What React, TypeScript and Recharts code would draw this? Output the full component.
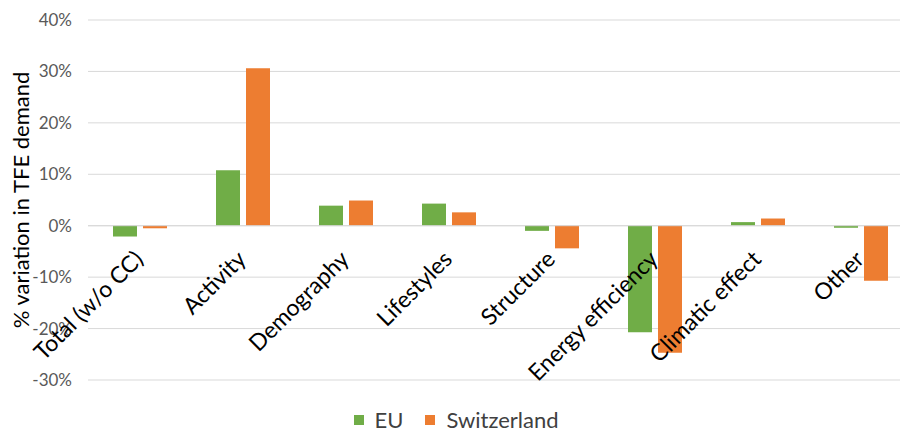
import { BarChart, Bar, XAxis, YAxis, CartesianGrid, Legend, ReferenceLine } from "recharts"

const CATEGORIES = [
  'Total (w/o CC)',
  'Activity',
  'Demography',
  'Lifestyles',
  'Structure',
  'Energy efficiency',
  'Climatic effect',
  'Other',
]
const EU_VALUES = [-2.1, 10.8, 3.9, 4.3, -1.0, -20.7, 0.7, -0.4]
const SWISS_VALUES = [-0.5, 30.6, 4.9, 2.6, -4.4, -24.7, 1.4, -10.7]
const Y_TICKS = [-30, -20, -10, 0, 10, 20, 30, 40]

const FONT = 'Lato, "Open Sans", sans-serif'
const CHART_W = 912
const CHART_H = 432
const X_AXIS_H = 30
const MARGIN = { top: 20, right: 0, bottom: 52 - X_AXIS_H, left: 0 }
const Y_MIN = -30
const Y_MAX = 40
// pixel row of the 0% line, where the category labels hang from
const PLOT_H = CHART_H - MARGIN.top - MARGIN.bottom - X_AXIS_H
const ZERO_Y = MARGIN.top + (PLOT_H * Y_MAX) / (Y_MAX - Y_MIN)

const data = CATEGORIES.map((name, i) => ({
  name,
  eu: EU_VALUES[i],
  ch: SWISS_VALUES[i],
}))

function CategoryTick(props: any) {
  const { x, payload } = props
  const tx = x + 5
  const ty = ZERO_Y + 35
  return (
    <text
      x={tx}
      y={ty}
      transform={`rotate(-45, ${tx}, ${ty})`}
      textAnchor="end"
      fill="#000"
      fontSize={23}
      fontFamily={FONT}
    >
      {payload.value}
    </text>
  )
}

function AxisTitle() {
  const cx = 21
  const cy = MARGIN.top + PLOT_H / 2
  return (
    <text
      x={cx}
      y={cy}
      dy={8}
      transform={`rotate(-90, ${cx}, ${cy})`}
      textAnchor="middle"
      fill="#000"
      fontSize={22}
      fontFamily={FONT}
    >
      % variation in TFE demand
    </text>
  )
}

function LegendContent(props: any) {
  const { payload = [] } = props
  return (
    <div style={{ display: 'flex', justifyContent: 'center', fontFamily: FONT, fontSize: 22, color: '#404040' }}>
      {payload.map((item: any, i: number) => (
        <div key={i} style={{ display: 'flex', alignItems: 'center', marginRight: i === 0 ? 22 : 0 }}>
          <span style={{ width: 10, height: 10, background: item.color, display: 'inline-block', marginRight: 11 }} />
          <span>{item.value}</span>
        </div>
      ))}
    </div>
  )
}

export default function App() {
  return (
    <div style={{ position: 'absolute', left: 0, top: 0, width: 900, height: 432, overflow: 'hidden', background: '#fff' }}>
      <BarChart
        width={CHART_W}
        height={CHART_H}
        data={data}
        margin={MARGIN}
        barCategoryGap={25}
        barGap={6}
      >
        <CartesianGrid vertical={false} stroke="#d9d9d9" strokeWidth={1} />
        <YAxis
          width={88}
          domain={[Y_MIN, Y_MAX]}
          ticks={Y_TICKS}
          interval={0}
          axisLine={false}
          tickLine={false}
          tickSize={0}
          tickMargin={16}
          tickFormatter={(v: number) => `${v}%`}
          tick={{ fill: '#595959', fontSize: 17, fontFamily: FONT }}
          label={{ content: () => <AxisTitle /> }}
        />
        <ReferenceLine y={0} stroke="#d9d9d9" />
        <Bar dataKey="eu" name="EU" fill="#70ad47" isAnimationActive={false} />
        <Bar dataKey="ch" name="Switzerland" fill="#ed7d31" isAnimationActive={false} />
        <XAxis
          dataKey="name"
          height={X_AXIS_H}
          axisLine={false}
          tickLine={false}
          interval={0}
          tick={<CategoryTick />}
        />
        <Legend
          verticalAlign="middle"
          align="center"
          wrapperStyle={{ top: 406, left: 0, width: CHART_W }}
          content={<LegendContent />}
        />
      </BarChart>
    </div>
  )
}
